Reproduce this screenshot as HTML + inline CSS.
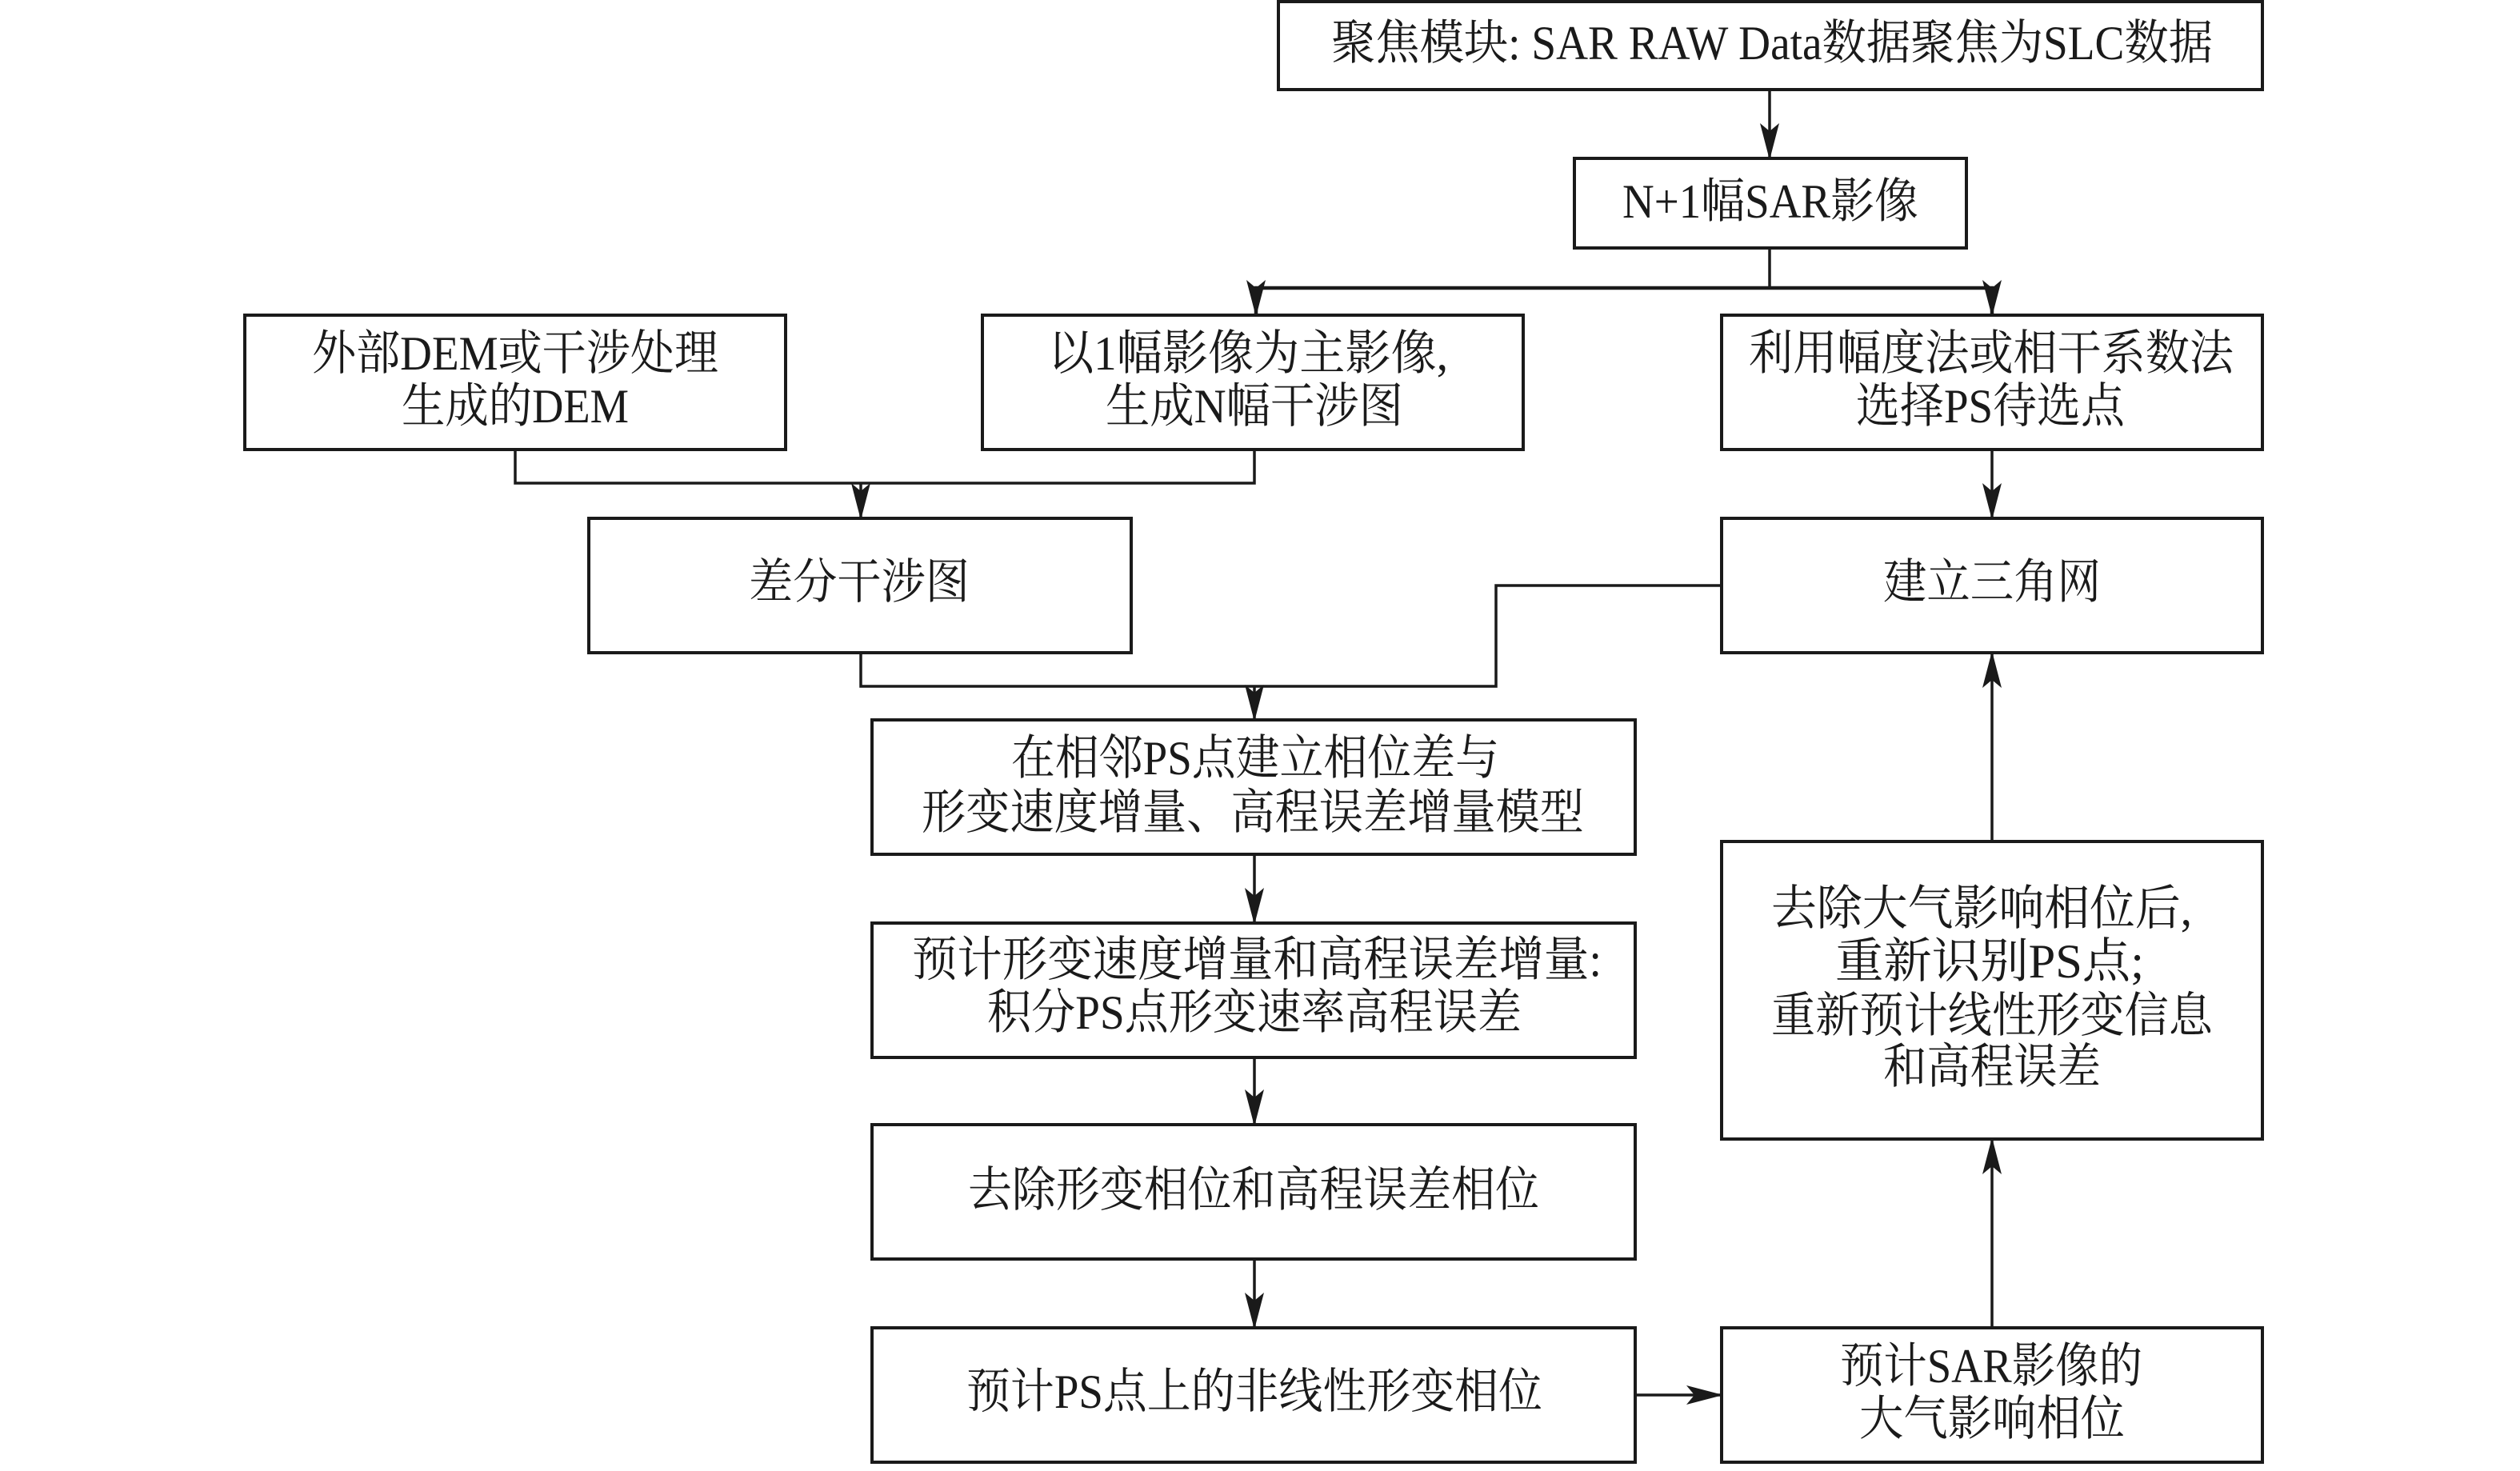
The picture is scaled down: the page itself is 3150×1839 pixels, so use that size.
<!DOCTYPE html>
<html><head><meta charset="utf-8">
<style>
html,body{margin:0;padding:0;background:#fff;}
svg{display:block;}
text{font-family:"Liberation Serif","Noto Serif CJK SC",serif;font-size:60px;fill:#1a1a1a;dominant-baseline:central;}
</style></head><body>
<svg width="3150" height="1839" viewBox="0 0 3150 1839" xmlns="http://www.w3.org/2000/svg">
<defs>
<marker id="ah" markerWidth="46" markerHeight="24" refX="44" refY="12" orient="auto" markerUnits="userSpaceOnUse">
<polygon points="0,0 46,12 0,24 10,12" fill="#1a1a1a"/>
</marker>
</defs>
<g fill="none" stroke="#1a1a1a" stroke-width="4">
<rect x="1598" y="2" width="1230" height="110"/>
<rect x="1968" y="198" width="490" height="112"/>
<rect x="306" y="394" width="676" height="168"/>
<rect x="1228" y="394" width="676" height="168"/>
<rect x="2152" y="394" width="676" height="168"/>
<rect x="736" y="648" width="678" height="168"/>
<rect x="2152" y="648" width="676" height="168"/>
<rect x="1090" y="900" width="954" height="168"/>
<rect x="1090" y="1154" width="954" height="168"/>
<rect x="1090" y="1406" width="954" height="168"/>
<rect x="1090" y="1660" width="954" height="168"/>
<rect x="2152" y="1660" width="676" height="168"/>
<rect x="2152" y="1052" width="676" height="372"/>
</g>
<g fill="none" stroke="#1a1a1a" stroke-width="3.5">
<line x1="2212" y1="112" x2="2212" y2="198" marker-end="url(#ah)"/>
<line x1="2212" y1="310" x2="2212" y2="360"/>
<polyline points="1570,394 1570,360 2490,360 2490,394" stroke-width="4.5"/>
<line x1="1570" y1="360" x2="1570" y2="394" marker-end="url(#ah)"/>
<line x1="2490" y1="360" x2="2490" y2="394" marker-end="url(#ah)"/>
<polyline points="644,562 644,604 1568,604 1568,562"/>
<line x1="1076" y1="604" x2="1076" y2="648" marker-end="url(#ah)"/>
<line x1="2490" y1="562" x2="2490" y2="648" marker-end="url(#ah)"/>
<polyline points="2152,732 1870,732 1870,858 1076,858 1076,816"/>
<line x1="1568" y1="858" x2="1568" y2="900" marker-end="url(#ah)"/>
<line x1="1568" y1="1068" x2="1568" y2="1154" marker-end="url(#ah)"/>
<line x1="1568" y1="1322" x2="1568" y2="1406" marker-end="url(#ah)"/>
<line x1="1568" y1="1574" x2="1568" y2="1660" marker-end="url(#ah)"/>
<line x1="2044" y1="1744" x2="2152" y2="1744" marker-end="url(#ah)"/>
<line x1="2490" y1="1660" x2="2490" y2="1424" marker-end="url(#ah)"/>
<line x1="2490" y1="1052" x2="2490" y2="816" marker-end="url(#ah)"/>
</g>
<g>
<text x="1664" y="54" textLength="1102" lengthAdjust="spacingAndGlyphs">聚焦模块: SAR RAW Data数据聚焦为SLC数据</text>
<text x="2028" y="252" textLength="370" lengthAdjust="spacingAndGlyphs">N+1幅SAR影像</text>
<text x="390" y="442" textLength="508" lengthAdjust="spacingAndGlyphs">外部DEM或干涉处理</text>
<text x="502" y="508" textLength="284" lengthAdjust="spacingAndGlyphs">生成的DEM</text>
<text x="1310" y="442" textLength="500" lengthAdjust="spacingAndGlyphs">以1幅影像为主影像,</text>
<text x="1382" y="508" textLength="372" lengthAdjust="spacingAndGlyphs">生成N幅干涉图</text>
<text x="2186" y="442" textLength="606" lengthAdjust="spacingAndGlyphs">利用幅度法或相干系数法</text>
<text x="2320" y="508" textLength="336" lengthAdjust="spacingAndGlyphs">选择PS待选点</text>
<text x="936" y="728" textLength="276" lengthAdjust="spacingAndGlyphs">差分干涉图</text>
<text x="2354" y="728" textLength="272" lengthAdjust="spacingAndGlyphs">建立三角网</text>
<text x="1264" y="948" textLength="610" lengthAdjust="spacingAndGlyphs">在相邻PS点建立相位差与</text>
<text x="1152" y="1016" textLength="828" lengthAdjust="spacingAndGlyphs">形变速度增量、高程误差增量模型</text>
<text x="1140" y="1200" textLength="862" lengthAdjust="spacingAndGlyphs">预计形变速度增量和高程误差增量:</text>
<text x="1234" y="1266" textLength="668" lengthAdjust="spacingAndGlyphs">积分PS点形变速率高程误差</text>
<text x="1210" y="1488" textLength="714" lengthAdjust="spacingAndGlyphs">去除形变相位和高程误差相位</text>
<text x="1208" y="1740" textLength="720" lengthAdjust="spacingAndGlyphs">预计PS点上的非线性形变相位</text>
<text x="2300" y="1708" textLength="378" lengthAdjust="spacingAndGlyphs">预计SAR影像的</text>
<text x="2324" y="1774" textLength="332" lengthAdjust="spacingAndGlyphs">大气影响相位</text>
<text x="2214" y="1136" textLength="526" lengthAdjust="spacingAndGlyphs">去除大气影响相位后,</text>
<text x="2294" y="1202" textLength="386" lengthAdjust="spacingAndGlyphs">重新识别PS点;</text>
<text x="2214" y="1270" textLength="552" lengthAdjust="spacingAndGlyphs">重新预计线性形变信息</text>
<text x="2354" y="1334" textLength="272" lengthAdjust="spacingAndGlyphs">和高程误差</text>
</g>
</svg>
</body></html>
